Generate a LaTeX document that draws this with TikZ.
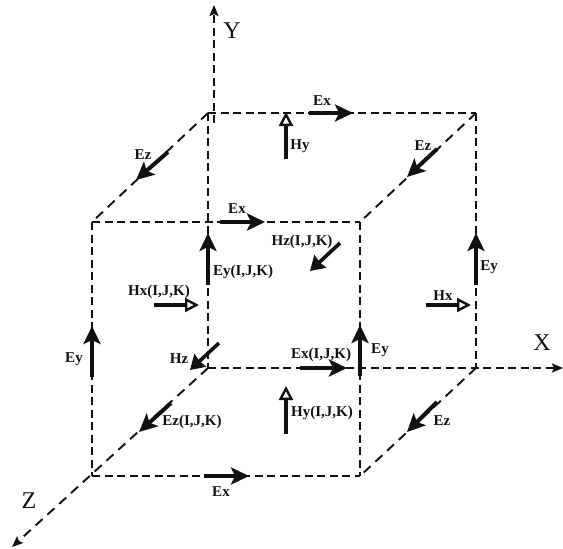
\documentclass[tikz,border=0pt]{standalone}
\usepackage{fontspec}
\setmainfont{Liberation Serif}
\usetikzlibrary{arrows.meta}
\definecolor{ink}{HTML}{111111}
\tikzset{
  edge/.style={draw=ink,line width=1.9pt,dash pattern=on 8pt off 4.5pt},
  diag/.style={draw=ink,line width=1.9pt,dash pattern=on 9.5pt off 6.5pt},
  axis/.style={edge,-{Stealth[length=11pt,width=9pt,inset=2pt]}},
  diagaxis/.style={diag,-{Stealth[length=11pt,width=9pt,inset=2pt]}},
  efield/.style={draw=ink,line width=4pt,-{Stealth[length=18pt,width=17pt,inset=4pt]}},
  hfield/.style={draw=ink,line width=3.8pt,-{Triangle[open,length=14pt,width=14pt,line width=2.4pt,fill=white]}},
  hzfield/.style={draw=ink,line width=3.6pt,-{Stealth[length=14pt,width=17pt,inset=1pt]}},
  lab/.style={font=\fontsize{15}{15}\selectfont\bfseries,text=ink,inner sep=0pt},
  axlab/.style={font=\fontsize{24}{24}\selectfont,text=ink,inner sep=0pt}
}
\begin{document}
\begin{tikzpicture}[x=1pt,y=-1pt]
\useasboundingbox (0,0) rectangle (563,549);
% cube corners
\coordinate (btl) at (208,113);
\coordinate (btr) at (476,113);
\coordinate (bbl) at (208,368);
\coordinate (bbr) at (476,368);
\coordinate (ftl) at (92,222);
\coordinate (ftr) at (360,222);
\coordinate (fbl) at (92,476);
\coordinate (fbr) at (360,476);
\coordinate (ytail) at (214,123);
\coordinate (ytip) at (214,5);
\coordinate (xtip) at (563,368);
\coordinate (ztip) at (12,547);
% edges
\draw[edge] (btl) -- (btr);
\draw[edge] (btr) -- (bbr);
\draw[edge] (btl) -- (bbl);
\draw[edge] (ftl) -- (ftr);
\draw[edge] (ftl) -- (fbl);
\draw[edge] (ftr) -- (fbr);
\draw[edge] (fbl) -- (fbr);
\draw[diag] (btl) -- (ftl);
\draw[diag] (btr) -- (ftr);
\draw[diag] (bbr) -- (fbr);
% axes
\draw[axis] (ytail) -- (ytip);
\draw[axis] (bbl) -- (xtip);
\draw[diagaxis] (bbl) -- (ztip);
% E arrows
\draw[efield] (92,377) -- (92,326);
\draw[efield] (360,376) -- (360,325);
\draw[efield] (208,285) -- (208,233);
\draw[efield] (476,285) -- (476,233);
\draw[efield] (309,113) -- (353,113);
\draw[efield] (220,222) -- (265,222);
\draw[efield] (300,368) -- (347,368);
\draw[efield] (204,476) -- (249,476);
\draw[efield] (168,152) -- (136,180);
\draw[efield] (437,149) -- (407,177);
\draw[efield] (171,403) -- (139,432);
\draw[efield] (437,402) -- (407,432);
% H arrows
\draw[hzfield] (219,343) -- (190,370);
\draw[hzfield] (340,243) -- (310,271);
\draw[hfield] (286,159) -- (286,112);
\draw[hfield] (286,434) -- (286,386);
\draw[hfield] (154,305) -- (199,305);
\draw[hfield] (426,305) -- (471,305);
% labels
\node[axlab] (ly) at (232,31) {Y};
\node[axlab] (lx) at (542,343) {X};
\node[axlab] (lz) at (29,501) {Z};
\node[lab] (n1) at (322,101) {Ex};
\node[lab] (n2) at (300,146) {Hy};
\node[lab] (n3) at (143,155) {Ez};
\node[lab] (n4) at (237,209) {Ex};
\node[lab] (n5) at (302,242) {Hz(I,J,K)};
\node[lab] (n6) at (243,272) {Ey(I,J,K)};
\node[lab] (n7) at (423,146) {Ez};
\node[lab] (n8) at (489,267) {Ey};
\node[lab] (n9) at (159,292) {Hx(I,J,K)};
\node[lab] (n10) at (74,359) {Ey};
\node[lab] (n11) at (179,359) {Hz};
\node[lab] (n12) at (192,422) {Ez(I,J,K)};
\node[lab] (n13) at (221,492) {Ex};
\node[lab] (n14) at (443,296) {Hx};
\node[lab] (n15) at (321,355) {Ex(I,J,K)};
\node[lab] (n16) at (380,350) {Ey};
\node[lab] (n17) at (322,413) {Hy(I,J,K)};
\node[lab] (n18) at (442,421) {Ez};
\end{tikzpicture}
\end{document}
